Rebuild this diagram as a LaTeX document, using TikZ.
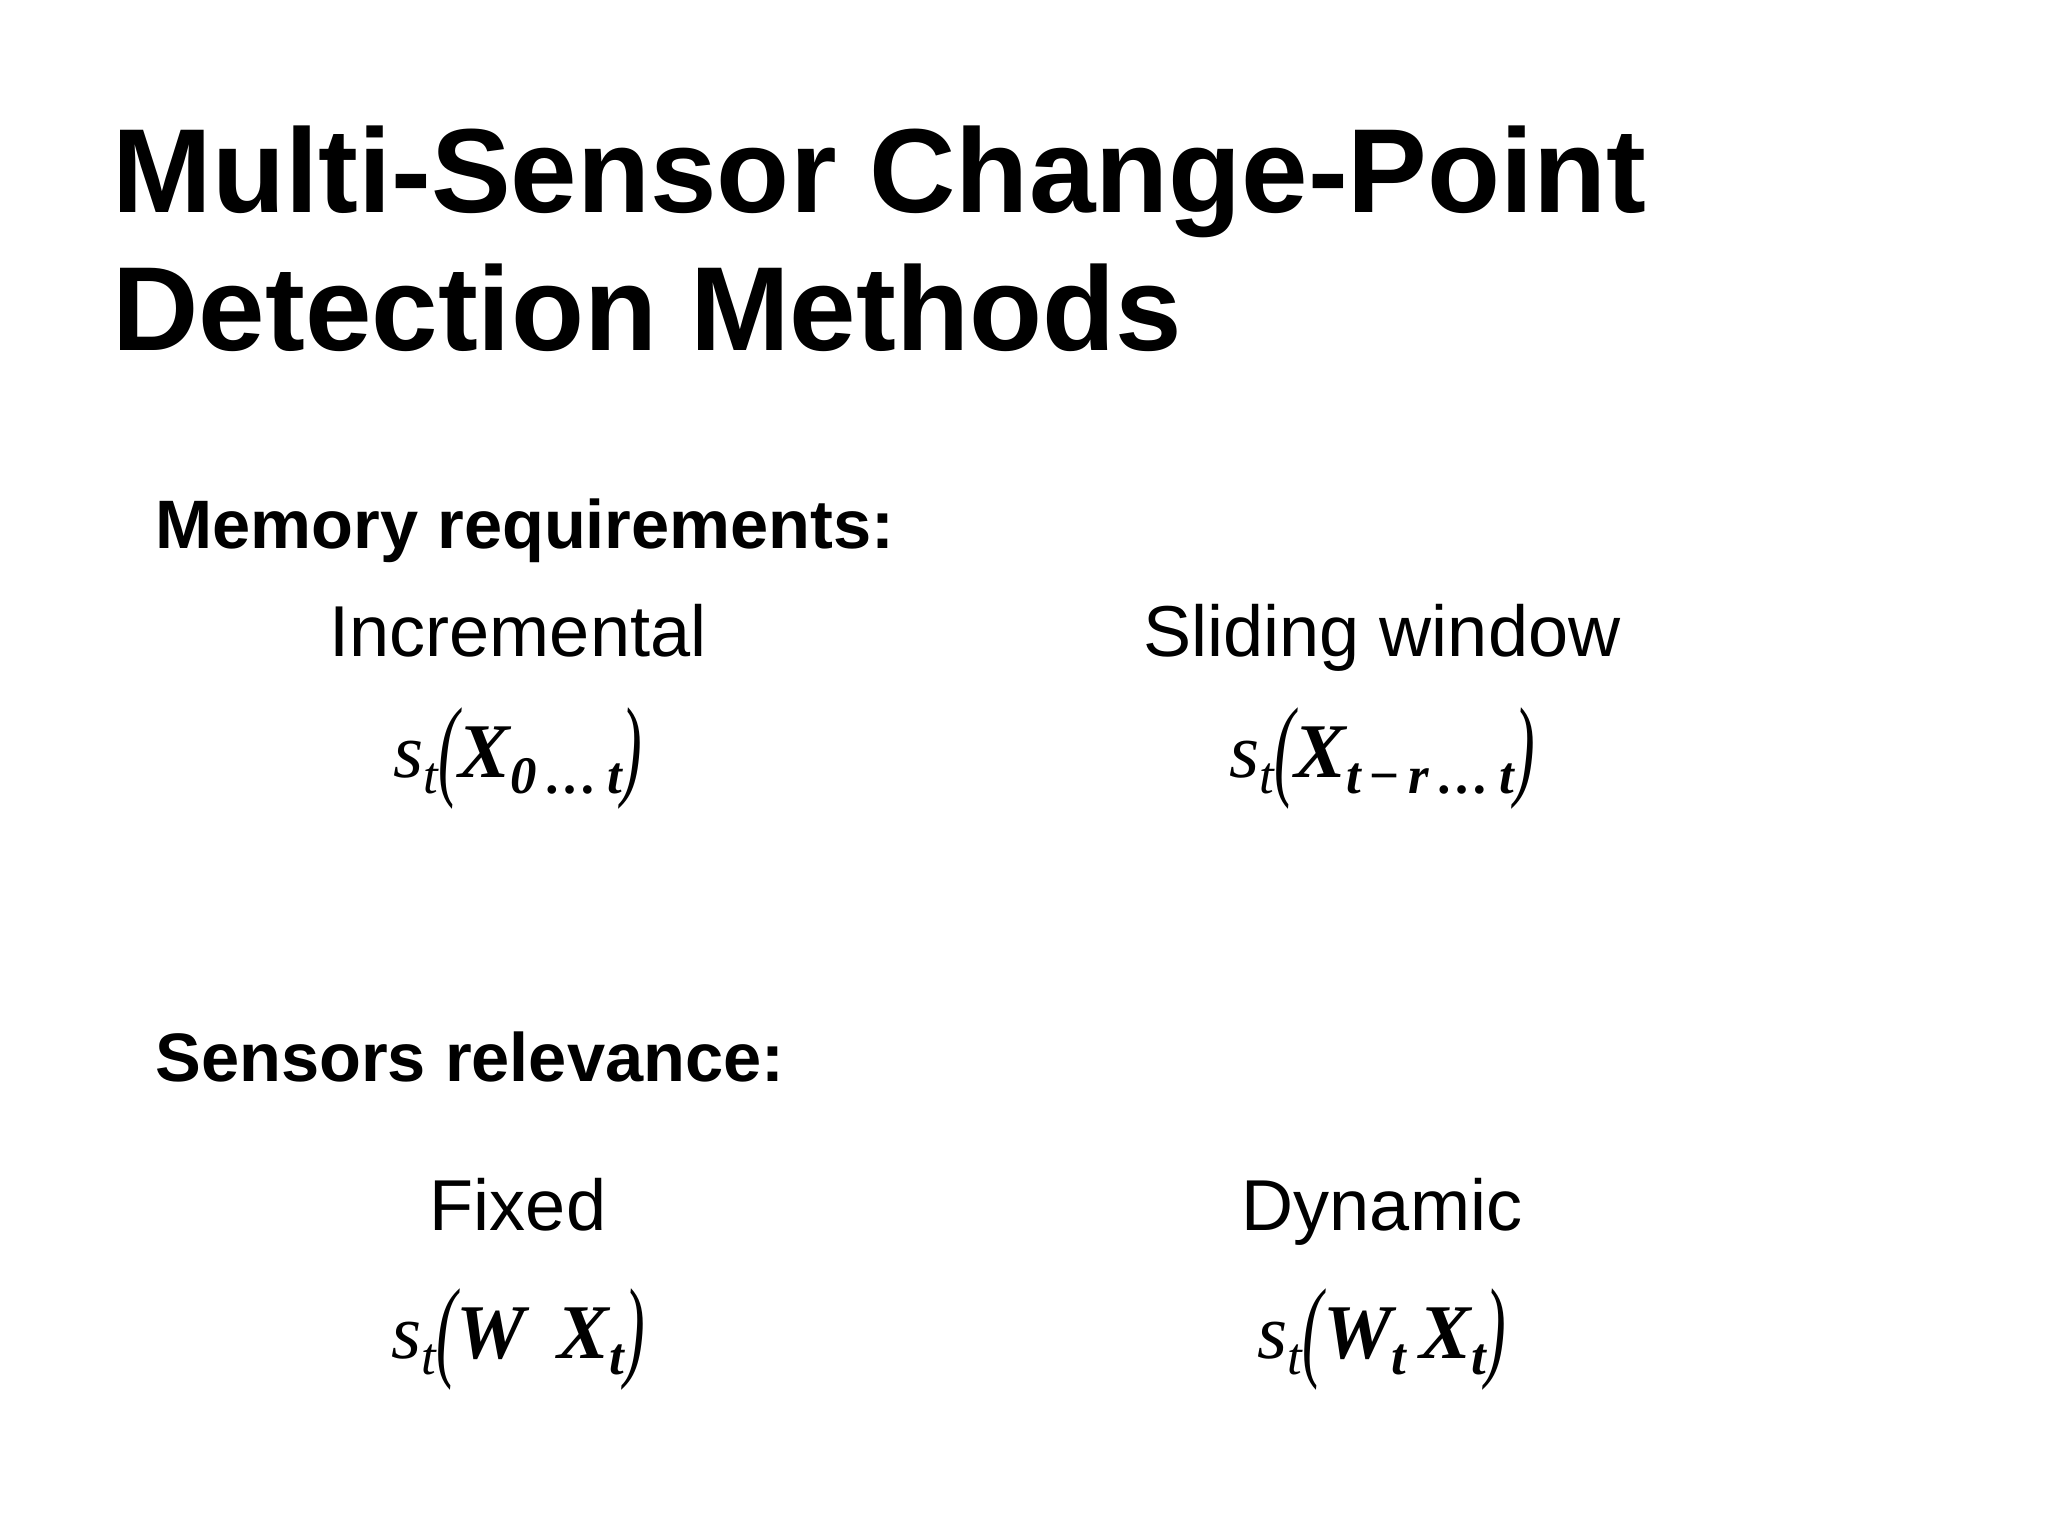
\documentclass[tikz,border=0pt]{standalone}
\usepackage{fontspec}
\usepackage{graphicx}
\setmainfont{Liberation Sans}
\newfontfamily\ser{Liberation Serif}
\newcommand{\lp}{\raisebox{-0.25ex}{\scalebox{0.8}[1.45]{(}}}
\newcommand{\rp}{\raisebox{-0.25ex}{\scalebox{0.8}[1.45]{)}}}
\newcommand{\sub}[1]{\raisebox{-0.45ex}{\fontsize{15}{15}\selectfont #1}}
\begin{document}
\begin{tikzpicture}[x=0.01cm,y=-0.01cm,
  ttl/.style={anchor=base west,font=\fontsize{34}{40}\selectfont\bfseries},
  hd/.style={anchor=base west,font=\fontsize{19.5}{24}\selectfont\bfseries},
  lab/.style={anchor=base,font=\fontsize{20.5}{24}\selectfont},
  frm/.style={anchor=base,font=\fontsize{22}{26}\selectfont\ser}]
\useasboundingbox (0,0) rectangle (2048,1535);
\node[ttl] (t1) at (100,212) {Multi-Sensor Change-Point};
\node[ttl] (t2) at (100,350) {Detection Methods};
\node[hd] (h1) at (143,548) {Memory requirements:};
\node[lab] (inc) at (518,656) {Incremental};
\node[lab] (sw) at (1382,656) {Sliding window};
\node[frm] (f1) at (518,777) {\itshape s\sub{t}\lp{\bfseries X\sub{0\,\dots\,t}}\rp};
\node[frm] (f2) at (1382,777) {\itshape s\sub{t}\lp{\bfseries X\sub{t\,\upshape\textminus\,\itshape r\,\dots\,t}}\rp};
\node[hd] (h2) at (143,1081) {Sensors relevance:};
\node[lab] (fx) at (518,1230) {Fixed};
\node[lab] (dy) at (1382,1230) {Dynamic};
\node[frm] (f3) at (518,1358) {\itshape s\sub{t}\lp{\bfseries W\, X\sub{t}}\rp};
\node[frm] (f4) at (1382,1358) {\itshape s\sub{t}\lp{\bfseries W\sub{t}\,X\sub{t}}\rp};
\end{tikzpicture}
\end{document}
